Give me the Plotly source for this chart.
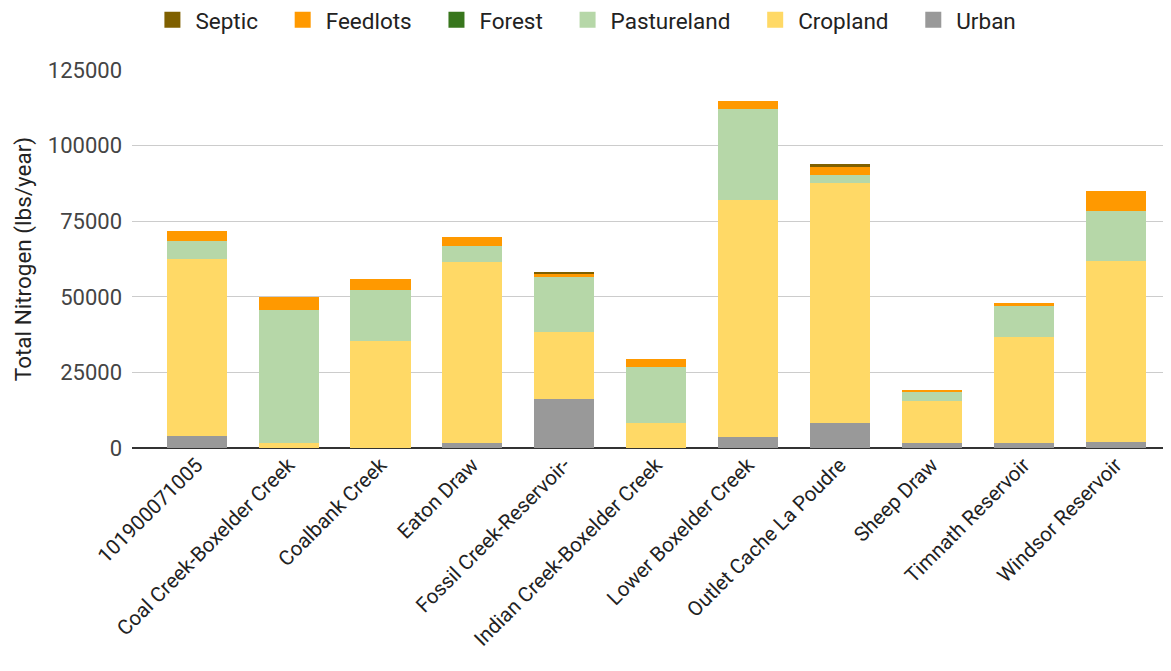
import plotly.graph_objects as go

categories = ["101900071005", "Coal Creek-Boxelder Creek", "Coalbank Creek", "Eaton Draw",
              "Fossil Creek-Reservoir-", "Indian Creek-Boxelder Creek", "Lower Boxelder Creek",
              "Outlet Cache La Poudre", "Sheep Draw", "Timnath Reservoir", "Windsor Reservoir"]

urban = [4000, 0, 0, 1550, 16100, 0, 3750, 8150, 1550, 1550, 2100]
cropland = [58500, 1500, 35400, 59850, 22360, 8170, 78250, 79550, 13890, 35150, 59840]
pastureland = [6060, 44140, 16850, 5400, 18190, 18730, 30000, 2580, 3080, 10160, 16330]
forest = [0, 0, 0, 0, 0, 0, 0, 0, 0, 0, 0]
feedlots = [3100, 4200, 3640, 3080, 1120, 2430, 2650, 2550, 560, 1200, 6720]
septic = [0, 0, 0, 0, 530, 0, 0, 990, 0, 0, 0]

series = [
    ("Urban", urban, "#999999"),
    ("Cropland", cropland, "#ffd966"),
    ("Pastureland", pastureland, "#b6d7a8"),
    ("Forest", forest, "#38761d"),
    ("Feedlots", feedlots, "#ff9900"),
    ("Septic", septic, "#7f6000"),
]

fig = go.Figure()
for name, vals, color in series:
    fig.add_trace(go.Bar(x=categories, y=vals, name=name, legendgroup=name, showlegend=False,
                         marker=dict(color=color, line=dict(width=0))))
# legend entries with larger square swatches
pad = "\u00a0" * 3
for name, vals, color in series:
    fig.add_trace(go.Scatter(x=[None], y=[None], mode="markers", name=name + pad, legendgroup=name,
                             marker=dict(symbol="square", size=22, color=color)))

font_family = "Roboto, Arial, sans-serif"
fig.update_layout(
    barmode="stack",
    bargap=0.347,
    width=1163, height=663,
    margin=dict(l=124, r=1, t=62, b=223, autoexpand=False),
    paper_bgcolor="white", plot_bgcolor="white",
    font=dict(family=font_family, size=20, color="#444444"),
    legend=dict(orientation="h", traceorder="reversed",
                xref="paper", yref="paper",
                x=0.445, xanchor="center", y=1.132, yanchor="middle",
                font=dict(size=22.5, color="#222222"), itemwidth=36),
    xaxis=dict(tickangle=-45, range=[-0.704, 10.591], showgrid=False,
               tickfont=dict(size=20.5, color="#222222"), ticks=""),
    yaxis=dict(range=[0, 125000], tickvals=[0, 25000, 50000, 75000, 100000, 125000],
               tickformat="d", gridcolor="#cccccc", gridwidth=1,
               zeroline=True, zerolinecolor="#333333", zerolinewidth=1.5,
               ticklabelstandoff=9,
               title=dict(text="Total Nitrogen (lbs/year)", font=dict(size=22.5, color="#222222"),
                          standoff=9),
               tickfont=dict(size=22, color="#444444")),
)

fig.write_html("out.html")
